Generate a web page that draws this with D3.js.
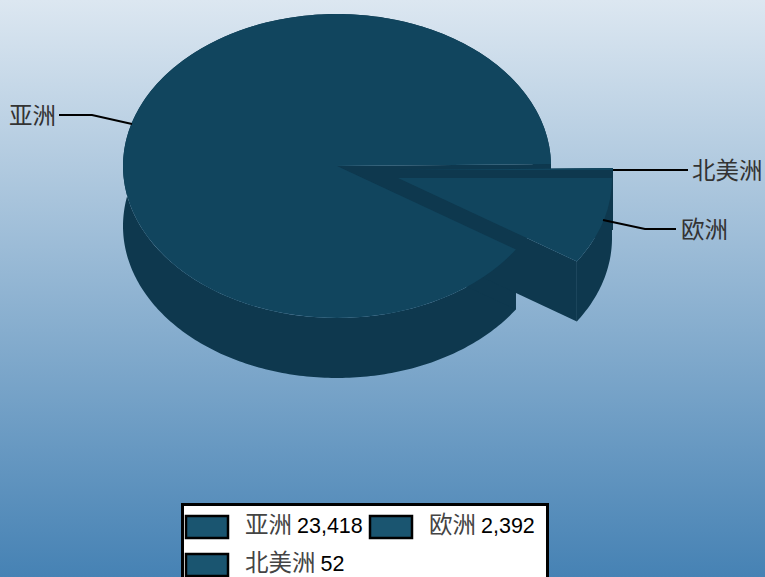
<!DOCTYPE html>
<html>
<head>
<meta charset="utf-8">
<script src="https://cdn.jsdelivr.net/npm/d3@7"></script>
<style>
  html, body { margin: 0; padding: 0; overflow: hidden; }
  svg { display: block; }
</style>
</head>
<body>
<svg id="chart"></svg>
<script>
// data
const categories = ['亚洲', '欧洲', '北美洲'];
const values = [23418, 2392, 52];

// layout
const width = 765;
const height = 577;
const cx = 337, cy = 166;
const rx = 214, ry = 152;
const depth = 60;
// explode offset per slice, same order as categories
const offsetX = [0, 61, 62];
const offsetY = [0, 12, 4];
// tops are painted asia, north america, europe
const paintOrder = [0, 2, 1];

const topColor = '#11455e';
const sideColor = '#0e384e';
const swatchColor = '#1a5570';
const cjkFont = '"Noto Sans CJK SC", sans-serif';
const numFont = '"Liberation Sans", Arial, sans-serif';

const svg = d3.select('#chart').attr('width', width).attr('height', height);

const grad = svg.append('defs').append('linearGradient')
  .attr('id', 'bg')
  .attr('x1', 0).attr('y1', 0).attr('x2', 0).attr('y2', 1);
grad.append('stop').attr('offset', '0%').attr('stop-color', '#dce7f1');
grad.append('stop').attr('offset', '100%').attr('stop-color', '#4682b4');

svg.append('rect').attr('width', width).attr('height', height).attr('fill', 'url(#bg)');

// pie runs counter clockwise, asia starts just above 3 o'clock
const total = d3.sum(values);
const start = Math.PI / 2 - 2 * Math.PI * values[2] / total;
const pie = d3.pie().sort(null).startAngle(start).endAngle(start - 2 * Math.PI)(values);
const slices = paintOrder.map(i => ({ ...pie[i], idx: i }));

const arc = d3.arc().innerRadius(0).outerRadius(rx);
const yRatio = ry / rx;

const rim = (a) => [rx * Math.sin(a), -rx * Math.cos(a) * yRatio];
const line = d3.line();
const place = (d) => `translate(${cx + offsetX[d.idx]},${cy + offsetY[d.idx]})`;

// wall below the slice: rim band plus the two cut faces
const wallPath = (s) => {
  const steps = Math.max(2, Math.ceil(Math.abs(s.endAngle - s.startAngle) * 60));
  const angles = d3.range(steps + 1).map(i => s.startAngle + (s.endAngle - s.startAngle) * i / steps);
  const upper = angles.map(rim);
  const lower = upper.slice().reverse().map(p => [p[0], p[1] + depth]);
  return line([...upper, ...lower]) + 'Z';
};
const cutPath = (a) => {
  const p = rim(a);
  return line([[0, 0], p, [p[0], p[1] + depth], [0, depth]]) + 'Z';
};

// all walls go first, the tops sit over them
const walls = svg.selectAll('g.wall')
  .data(slices)
  .enter()
  .append('g')
  .attr('class', 'wall')
  .attr('transform', place)
  .attr('fill', sideColor);

walls.append('path').attr('d', wallPath);
walls.append('path').attr('d', d => cutPath(d.startAngle));
walls.append('path').attr('d', d => cutPath(d.endAngle));

svg.selectAll('g.top')
  .data(slices)
  .enter()
  .append('g')
  .attr('class', 'top')
  .attr('transform', place)
  .append('path')
  .attr('d', arc)
  .attr('transform', `scale(1,${yRatio})`)
  .attr('fill', topColor);

// leader lines
const leaders = [
  [[59, 115], [92, 115], [132, 124]],
  [[603, 220], [645, 229], [676, 229]],
  [[613, 170], [688, 170]]
];
const labelX = [9, 681, 692];
const labelY = [124, 238, 179];

svg.selectAll('path.leader')
  .data(leaders)
  .enter()
  .append('path')
  .attr('class', 'leader')
  .attr('d', d => line(d))
  .attr('fill', 'none')
  .attr('stroke', '#000')
  .attr('stroke-width', 2);

svg.selectAll('text.label')
  .data(categories)
  .enter()
  .append('text')
  .attr('class', 'label')
  .attr('x', (d, i) => labelX[i])
  .attr('y', (d, i) => labelY[i])
  .attr('font-family', cjkFont)
  .attr('font-size', 23.5)
  .attr('fill', '#333')
  .text(d => d);

// legend
svg.append('rect')
  .attr('x', 182.5).attr('y', 504.5)
  .attr('width', 365).attr('height', 90)
  .attr('fill', '#fff')
  .attr('stroke', '#000')
  .attr('stroke-width', 3);

const legendX = [186, 370, 186];
const legendY = [516, 516, 554];
const fmt = d3.format(',');

const item = svg.selectAll('g.legend')
  .data(categories)
  .enter()
  .append('g')
  .attr('class', 'legend')
  .attr('transform', (d, i) => `translate(${legendX[i]},${legendY[i]})`);

item.append('rect')
  .attr('width', 42).attr('height', 22)
  .attr('fill', swatchColor)
  .attr('stroke', '#000')
  .attr('stroke-width', 2.5);

const txt = item.append('text').attr('x', 59).attr('y', 17);
txt.append('tspan')
  .attr('font-family', cjkFont)
  .attr('font-size', 23.5)
  .attr('fill', '#444')
  .text(d => d);
txt.append('tspan')
  .attr('dx', 5)
  .attr('font-family', numFont)
  .attr('font-size', 21.5)
  .attr('fill', '#000')
  .text((d, i) => fmt(values[i]));
</script>
</body>
</html>
